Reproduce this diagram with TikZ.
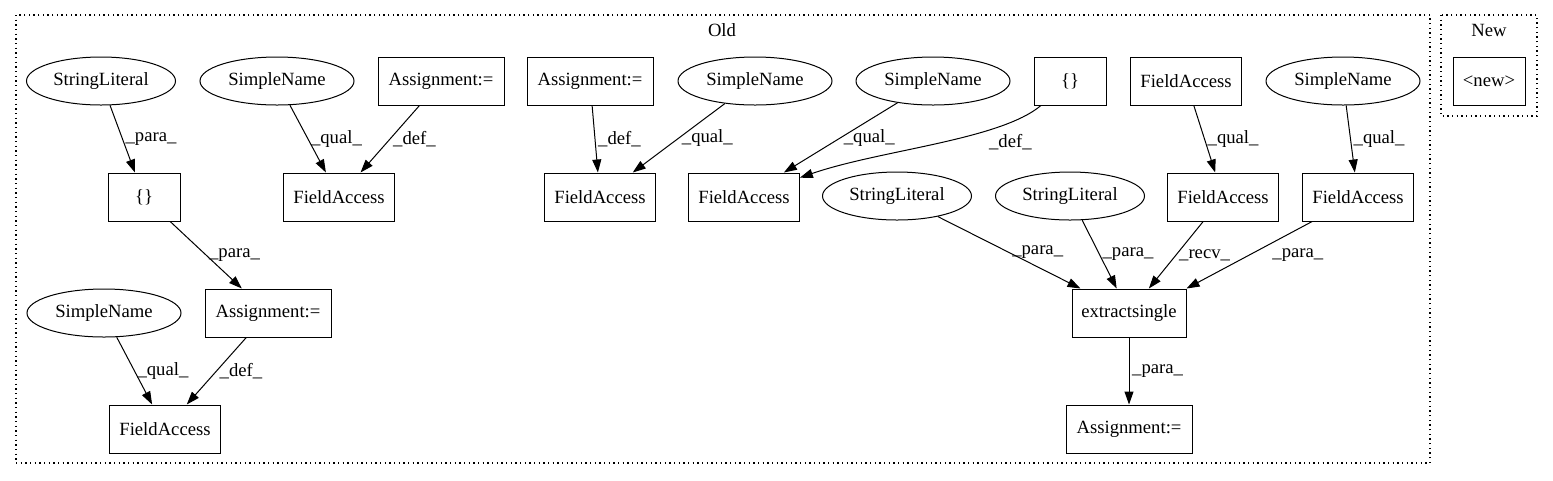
\documentclass[tikz,border=0pt]{standalone}
\usepackage{fontspec}
\setmainfont{Liberation Serif}
\usetikzlibrary{shapes.geometric,arrows.meta}
\begin{document}
\begin{tikzpicture}
  [x=0.75pt,y=-0.75pt,every node/.style={font=\fontsize{14}{16}\selectfont},
   box/.style={draw,line width=0.75pt,minimum height=36pt,minimum width=54pt,inner sep=3pt},
   fa/.style={box,minimum width=83pt},
   asg/.style={box,minimum width=94.5pt},
   oval/.style={draw,ellipse,line width=0.75pt,minimum height=36pt,minimum width=115.5pt,inner sep=0pt},
   edge/.style={line width=0.75pt,-{Triangle[length=9.75pt,width=6.75pt]}},
   lab/.style={anchor=west,inner sep=2pt},
   cluster/.style={line width=1pt,dash pattern=on 1pt off 2.5pt}]
  \useasboundingbox (0,0) rectangle (1553,480);
  \draw[cluster] (16,15) rectangle (1430,463);
  \draw[cluster] (1441,15) rectangle (1537,116);
  \node (old) at (722,30) {Old};
  \node (new) at (1489,30) {New};
  % first row
  \node[oval,minimum width=111.75pt] (sl1) at (101,81) {StringLiteral};
  \node[oval] (sn1) at (277,81) {SimpleName};
  \node[asg] (as1) at (441,81) {Assignment:=};
  \node[asg] (as2) at (590,81) {Assignment:=};
  \node[oval] (sn2) at (755,81) {SimpleName};
  \node[oval] (sn3) at (933,81) {SimpleName};
  \node[box] (br2) at (1070,81) {\{\}};
  \node[fa] (fa6) at (1186,81) {FieldAccess};
  \node[oval] (sn4) at (1343,81) {SimpleName};
  \node[box] (nw) at (1489,81) {\textless new\textgreater};
  % second row
  \node[box] (br1) at (144,197) {\{\}};
  \node[fa] (fa1) at (339,197) {FieldAccess};
  \node[fa] (fa2) at (600,197) {FieldAccess};
  \node[fa] (fa3) at (744,197) {FieldAccess};
  \node[oval,minimum width=111.75pt] (sl2) at (897,196) {StringLiteral};
  \node[oval,minimum width=111.75pt] (sl3) at (1070,196) {StringLiteral};
  \node[fa] (fa7) at (1223,197) {FieldAccess};
  \node[fa] (fa8) at (1358,197) {FieldAccess};
  % third and fourth row
  \node[oval] (sn5) at (104,313) {SimpleName};
  \node[asg] (as3) at (268,313) {Assignment:=};
  \node[box,minimum width=85.5pt] (ext) at (1129,313) {extractsingle};
  \node[fa] (fa4) at (165,429) {FieldAccess};
  \node[asg] (as4) at (1129,429) {Assignment:=};

  \foreach \source/\dest/\kind in {sl1/br1/para,sn1/fa1/qual,as1/fa1/def,as2/fa2/def,
      sn2/fa2/qual,sn3/fa3/qual,fa6/fa7/qual,sn4/fa8/qual,br1/as3/para,sn5/fa4/qual,
      as3/fa4/def,sl2/ext/para,sl3/ext/para,fa7/ext/recv,ext/as4/para}
    \draw[edge] (\source) -- node[lab] {\_\kind\_} (\dest);
  \draw[edge] (fa8) -- node[lab,xshift=15pt] {\_para\_} (ext.north east);
  \draw[edge] (br2) .. controls (1000,140) and (880,150) .. node[lab,pos=0.3,anchor=north west] {\_def\_} (fa3);
\end{tikzpicture}
\end{document}
